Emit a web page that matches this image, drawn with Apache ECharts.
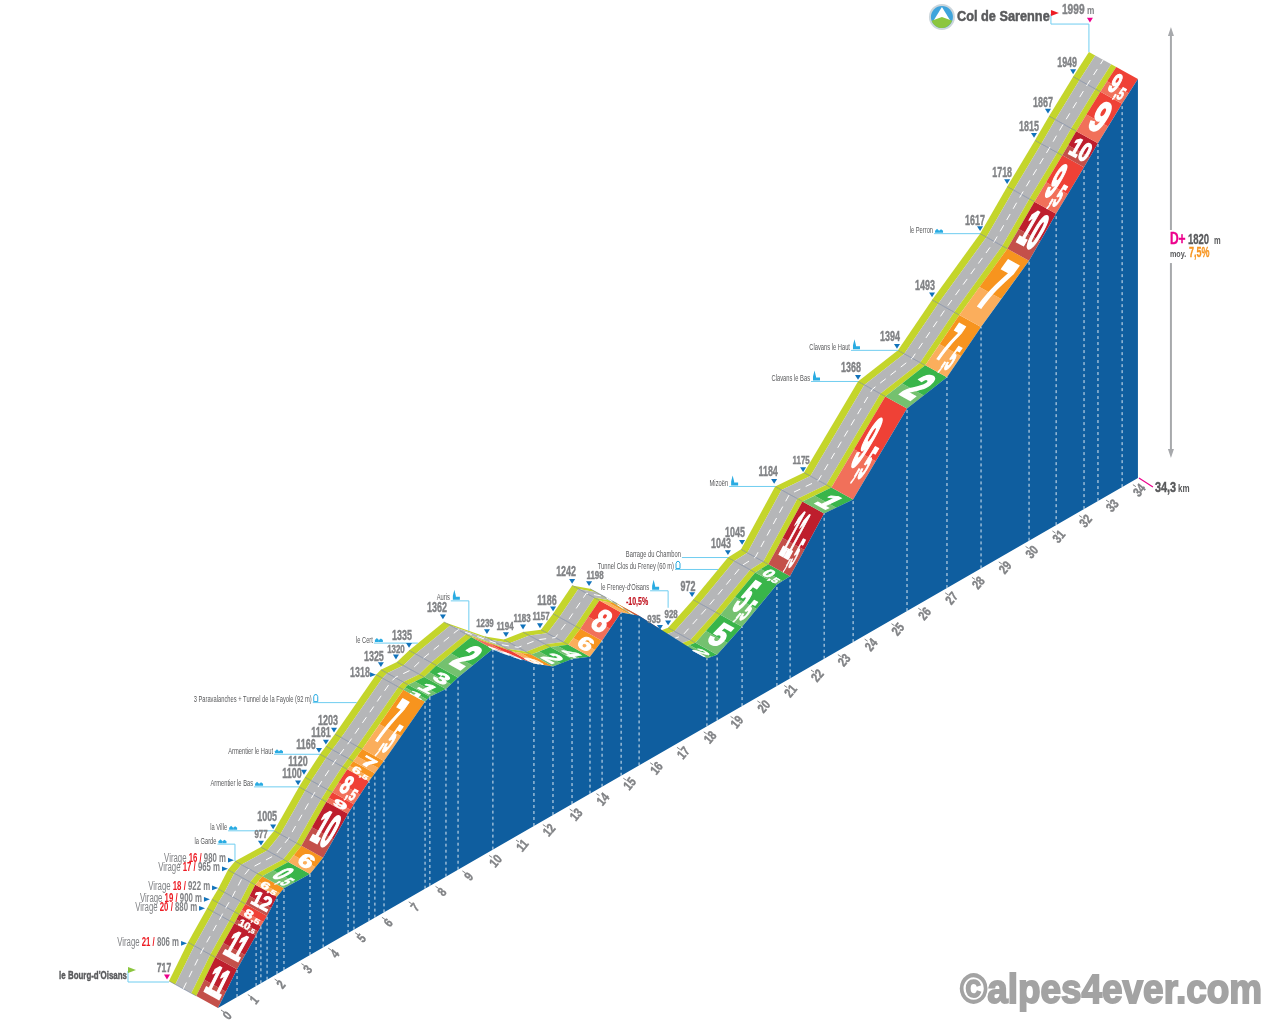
<!DOCTYPE html>
<html><head><meta charset="utf-8">
<style>html,body{margin:0;padding:0;background:#fff}#c{width:1280px;height:1024px}</style>
<script src="https://cdn.jsdelivr.net/npm/echarts@6/dist/echarts.min.js"></script>
</head><body><div id="c"></div>
<script>
// ---------- DATA ----------
const kmPoints = [0,0.71,1.42,1.60,1.83,2.20,2.46,3.43,3.92,4.85,5.07,5.63,5.85,6.19,7.72,7.90,8.50,8.95,10.25,11.78,12.49,13.20,13.87,14.32,15.03,15.70,18.23,18.61,19.54,20.84,21.33,22.60,23.68,25.69,27.18,28.45,30.24,31.25,32.29,32.81,33.71,34.30];
const altitudes = [717,806,880,900,922,965,980,977,1005,1100,1120,1166,1181,1203,1318,1325,1320,1335,1362,1239,1194,1183,1157,1186,1242,1198,935,928,972,1043,1045,1184,1175,1368,1394,1493,1617,1718,1815,1867,1949,1999];
const grades = [11,11,10.5,8.5,12,6.5,0.5,6,10,9,8.5,6.5,7,7.5,1,1,3,2,8,6,2,4,6,8,6.5,10.5,2,5,5.5,0.5,11.5,1,9.5,2,7.5,7,10,9.5,10,9,9.5];
const kmTicks = Array.from({length:35},(_,i)=>i);
const virageNumbers = [16,17,18,19,20,21];
const virageVertex = [6,5,4,3,2,1];
const placeNames = ['la Ville','la Garde','Armentier le Bas','Armentier le Haut','3 Paravalanches + Tunnel de la Fayole (92 m)','le Cert','Auris','Tunnel Clos du Freney (60 m)','Barrage du Chambon',"le Freney-d'Oisans",'Mizoën','Clavans le Bas','Clavans le Haut','le Perron'];
const placeKm = [3.92,2.46,4.85,5.63,7.0,9.28,11.18,20.47,20.84,18.61,22.6,25.69,27.18,30.24];
const placeAlt = [1005,980,1100,1166,1264,1342,1287,1023,1043,928,1184,1368,1394,1617];
const placeKinds = ['house','house','house','house','tunnel','house','church','tunnel','none','church','church','church','church','house'];
const summitName = 'Col de Sarenne', startName = "le Bourg-d'Oisans";
const climbTotal = '1820', climbMean = '7,5%', climbLength = '34,3';

// ---------- LAYOUT / STYLE ----------
const AX = {kmMin:-8.128,kmMax:39.597,vMin:665.6,vMax:3956};
const SHEAR = 49.65, BASE_ALT = 717;
const D = {band:[-21.7,-12], lane:[-26.7,-14.8], road:[-42.7,-23.5], edge:[-49,-27], mid:[-34.7,-19.2]};
const GREY='#808285', DARK='#58595b', BLUE='#0f5e9f', TRI='#1273bb', LEAD='#6fcdf0', ICON='#29abe2', LIME='#c4d52b', ROAD='#b5b6b8';
const NARROW='"Liberation Sans",Arial,sans-serif';
const altLayout = {
 0:[-2,-4,-5,-12,11],7:[0,-4,0,-12,10],8:[-1,-4,-7,-14,13],9:[-1,-4,-7,-13,13],10:[-1,-5,-7,-15,13],11:[-1,-4,-14,-9,13],
 12:[0,-4,-5,-13,13],13:[-1,-4,-7,-13,13],15:[0,-5,-7,-13,13],16:[-1,-5,-1,-12,10],17:[0,-5,-7,-14,13],18:[-1,-5,-7,-14,13],
 19:[2,-5,0,-13,10],20:[2,-5,1,-13,10],21:[0,-5,-1,-13,10],22:[-1,-4,0,-13,10],23:[0,-5,-6,-13,13],24:[0,-4,-6,-13,13],
 25:[-1,-5,5,-13,10],26:[2,-4,-4,-12,10],27:[0,-5,3,-13,10],28:[-1,-5,-5,-13,13],29:[0,-5,-7,-13,13],30:[1,-7,-6,-16,13],
 31:[-1,-5,-7,-14,13],32:[-1,-3,-3,-12,10],33:[0,-4,-7,-13,13],34:[-1,-4,-8,-13,13],35:[0,-5,-7,-14,13],36:[0,-5,-5,-13,13],
 37:[0,-5,-5,-13,13],38:[-1,-5,-6,-13,13],39:[-1,-5,-6,-13,13],40:[0,-5,-6,-14,13]
};
const virageLayout = [[-4,-1],[-3,-1],[-3,-1],[-5,0],[-5,0],[-4,1]];
const placeLayout = [[46,0,0],[17.5,17,0],[45,0,0],[46,0,0],[44,0,0],[44,0,0],[18,30,0],[43,0,0],[46,0,0],[18,17,20],[46,0,0],[47,0,0],[47,0,0],[46,0,0]];
const hiddenFace = {24:1,25:1};

function ramp(g){ g=Math.abs(g);
 if(g<6) return ['#39b54a','#74c16f'];
 if(g<8) return ['#f7941e','#fbae5c'];
 if(g<10) return ['#ef4136','#f1705a'];
 return ['#be1e2d','#c4504a'];
}
const P=(api,km,alt,o)=>{const c=api.coord([km,alt+SHEAR*km]);return o?[c[0]+o[0],c[1]+o[1]]:c;};
const off=(p,o)=>[p[0]+o[0],p[1]+o[1]];
const lerp=(a,b,t)=>[a[0]+(b[0]-a[0])*t,a[1]+(b[1]-a[1])*t];
const poly=(pts,fill)=>({type:'polygon',shape:{points:pts},style:{fill}});
const line=(pts,stroke,w,dash)=>({type:'polyline',shape:{points:pts},style:{stroke,fill:'none',lineWidth:w,lineDash:dash||null}});
function txt(t,x,y,o){o=o||{};return {type:'text',x,y,scaleX:o.sx||1,style:{text:t,x:0,y:0,fill:o.c||GREY,
  font:(o.w||'bold')+' '+(o.s||13)+'px '+(o.f||NARROW),align:o.a||'center',verticalAlign:'middle',
  stroke:o.st||null,lineWidth:o.sw||0}};}
function tri(x,y,dir,c,s){s=s||3;c=c||TRI;
  if(dir==='r')return poly([[x-s,y-s*.8],[x+s,y],[x-s,y+s*.8]],c);
  return poly([[x-s,y-s*.8],[x+s,y-s*.8],[x,y+s*.8]],c);}
function affine(cx,cy,a,b,c,d,children){
  const E=(a+d)/2,F=(a-d)/2,G=(b+c)/2,H=(b-c)/2,Q=Math.hypot(E,H),R=Math.hypot(F,G);
  const a1=Math.atan2(G,F),a2=Math.atan2(H,E),th=(a2-a1)/2,be=(a2+a1)/2;
  return {type:'group',x:cx,y:cy,rotation:-be,scaleX:Q+R,scaleY:Q-R,children:[{type:'group',rotation:-th,children}]};
}
function faceNumber(api,i){
  if(hiddenFace[i])return null;
  const g=grades[i],A=P(api,kmPoints[i],altitudes[i]),B=P(api,kmPoints[i+1],altitudes[i+1]);
  const rx=B[0]-A[0],ry=B[1]-A[1],len=Math.hypot(rx,ry);
  const dl=Math.hypot(22,12),dx=22/dl,dy=12/dl;
  const isHalf=g%1!==0,main=String(Math.floor(g));
  const FS=20,mw=main.length*FS*.52,sw=isHalf?13:0,w=mw+sw,h=15;
  const targetW=Math.min(dl*.74,w*1.3),targetH=Math.min(len*.72,58);
  const sx=targetW/w,sy=targetH/h,cx=A[0]+rx/2-11,cy=A[1]+ry/2-4;
  const kids=[{type:'text',x:-sw/2,y:0,style:{text:main,x:0,y:0,fill:'#fff',stroke:'#fff',lineWidth:1,font:'bold '+FS+'px '+NARROW,align:'center',verticalAlign:'middle'}}];
  if(isHalf)kids.push({type:'text',x:mw/2,y:4,style:{text:',5',x:0,y:0,fill:'#fff',stroke:'#fff',lineWidth:.6,font:'bold 13px '+NARROW,align:'center',verticalAlign:'middle'}});
  return affine(cx,cy,dx*sx,dy*sx,-(rx/len)*sy,-(ry/len)*sy,kids);
}
function icon(kind,x,y){
  if(kind==='house')return {type:'group',children:[
    poly([[x,y],[x,y-2],[x+2,y-4],[x+4,y-2],[x+4,y]],ICON),poly([[x+4,y],[x+4,y-2],[x+6,y-3.5],[x+8,y-2],[x+8,y]],ICON)]};
  if(kind==='church')return {type:'group',children:[
    poly([[x+1,y],[x+1,y-4],[x+2.5,y-10],[x+4,y-4],[x+4,y-3],[x+8,y-3],[x+8,y]],ICON)]};
  if(kind==='tunnel')return {type:'group',children:[
    line([[x,y],[x,y-5],[x+1,y-7],[x+3,y-7],[x+4,y-5],[x+4,y],[x,y]],ICON,1)]};
  return null;
}
const idx=kmPoints.map((k,i)=>[k,altitudes[i]]);
const one=[[0,BASE_ALT]];

function rSegment(p,api){
  const i=p.dataIndex; if(i>=grades.length)return null;
  const a=P(api,kmPoints[i],altitudes[i]),b=P(api,kmPoints[i+1],altitudes[i+1]);
  const q=(o1,o2,f,t0,t1)=>{const s=lerp(a,b,t0==null?0:t0),e=lerp(a,b,t1==null?1:t1);
    return poly([off(s,o1),off(e,o1),off(e,o2),off(s,o2)],f);};
  const c=ramp(grades[i]),ch=[
    q(D.edge,D.road,LIME),q(D.road,D.lane,ROAD),q(D.lane,D.band,LIME),
    q(D.band,[0,0],c[1],0,.42),q(D.band,[0,0],c[0],.42,1),
    line([off(a,D.band),off(a,D.edge)],'rgba(80,100,140,.55)',.8)];
  return {type:'group',children:ch};
}
function rCenterLine(p,api){
  return line(kmPoints.map((k,i)=>P(api,k,altitudes[i],D.mid)),'#fff',1,[7,6]);
}
function rWall(p,api){
  const top=kmPoints.map((k,i)=>P(api,k,altitudes[i]));
  const last=kmPoints[kmPoints.length-1];
  return poly(top.concat([P(api,last,BASE_ALT),P(api,0,BASE_ALT)]),BLUE);
}
function rDashes(p,api){
  const i=p.dataIndex; if(i===0||i===kmPoints.length-1)return null;
  return line([P(api,kmPoints[i],BASE_ALT),P(api,kmPoints[i],altitudes[i])],'rgba(255,255,255,.85)',1,[3,3]);
}
function rFace(p,api){return p.dataIndex<grades.length?faceNumber(api,p.dataIndex):null;}
function rKm(p,api){
  const k=kmTicks[p.dataIndex],b=P(api,k,BASE_ALT);
  return {type:'group',children:[
    line([[b[0]+3,b[1]+2],[b[0]+6,b[1]+4]],GREY,1),
    {type:'text',x:b[0]+10,y:b[1]+8,rotation:.87,scaleX:.8,style:{text:String(k),x:0,y:0,fill:GREY,stroke:GREY,lineWidth:.4,font:'bold 13px '+NARROW,align:'center',verticalAlign:'middle'}}]};
}
function rAltLabel(p,api){
  const i=p.dataIndex,L=altLayout[i]; 
  const b=P(api,kmPoints[i],altitudes[i],D.edge);
  if(i===14){
    return {type:'group',children:[tri(b[0]-3,b[1],'r'),txt(String(altitudes[i]),b[0]-16,b[1]-2,{s:14,sx:.64,st:GREY,sw:.3})]};}
  if(!L)return null;
  const small=L[4]<13;
  return {type:'group',children:[
    tri(b[0]+L[0],b[1]+L[1],'d',i===0?'#ec008c':TRI),
    txt(String(altitudes[i]),b[0]+L[2],b[1]+L[3],{s:L[4]+1,sx:small?.72:.64,c:GREY,st:GREY,sw:.4})]};
}
function rVirage(p,api){
  const j=p.dataIndex,v=virageVertex[j],b=P(api,kmPoints[v],altitudes[v],D.edge),L=virageLayout[j];
  const x=b[0]+L[0],y=b[1]+L[1];
  return {type:'group',children:[tri(x,y,'r'),
   {type:'text',x:x-5,y:y-1,scaleX:.65,style:{text:'{a|Virage }{b|'+virageNumbers[j]+' / }{c|'+altitudes[v]+' m}',x:0,y:0,align:'right',verticalAlign:'middle',
    rich:{a:{fill:GREY,font:'12px '+NARROW},b:{fill:'#ed1c24',font:'bold 12px '+NARROW},c:{fill:GREY,font:'bold 12px '+NARROW}}}}]};
}
function rPlace(p,api){
  const j=p.dataIndex,L=placeLayout[j],b=P(api,placeKm[j],placeAlt[j],D.edge);
  const ly=b[1]-(L[1]+L[2]),lx=b[0]-L[0],pts=L[1]?[[b[0],b[1]-L[2]],[b[0],ly],[lx,ly]]:[[b[0],ly],[lx,ly]];
  const kind=placeKinds[j],ch=[line(pts,LEAD,1)];
  const ic=icon(kind,lx+1,ly-1); if(ic)ch.push(ic);
  ch.push(txt(placeNames[j],lx-1,ly-3,{s:9,w:'normal',a:'right',sx:.64,c:'#58595b'}));
  return {type:'group',children:ch};
}
function rExtras(p,api){
  const n=kmPoints.length-1,s=P(api,kmPoints[n],altitudes[n],D.edge),st=P(api,0,altitudes[0],D.edge);
  const endB=P(api,kmPoints[n],BASE_ALT),ax=endB[0]+33,top=s[1]-24,bot=endB[1]-21;
  const d1=P(api,kmPoints[25],altitudes[25],D.edge);
  return {type:'group',children:[
    line([[s[0],s[1]],[s[0],s[1]-28],[s[0]-38,s[1]-28],[s[0]-38,s[1]-38]],LEAD,1),
    poly([[s[0]-38,s[1]-42],[s[0]-30,s[1]-39],[s[0]-38,s[1]-36]],'#ed1c24'),
    tri(s[0]+1,s[1]-32,'d','#ec008c'),
    txt(summitName,s[0]-132,s[1]-35,{s:15,a:'left',c:DARK,sx:.85,st:DARK,sw:.5}),
    txt('1999',s[0]-27,s[1]-42,{s:15,a:'left',c:GREY,sx:.68,st:GREY,sw:.4}),
    txt('m',s[0]-2,s[1]-41,{s:11,a:'left',c:GREY,sx:.75}),
    {type:'circle',shape:{cx:s[0]-147,cy:s[1]-35,r:13},style:{fill:'#ccd6dc'}},
    {type:'circle',shape:{cx:s[0]-147,cy:s[1]-35,r:11},style:{fill:'#3fa4dc'}},
    poly([[s[0]-155,s[1]-32],[s[0]-147,s[1]-45],[s[0]-139,s[1]-32]],'#fff'),
    {type:'sector',shape:{cx:s[0]-147,cy:s[1]-35,r:11,r0:0,startAngle:.35,endAngle:Math.PI-.35},style:{fill:'#8cc63f'}},
    line([[st[0],st[1]+1],[st[0]-41,st[1]+1],[st[0]-41,st[1]-10]],LEAD,1),
    poly([[st[0]-41,st[1]-14],[st[0]-33,st[1]-11],[st[0]-41,st[1]-8]],'#8cc63f'),
    txt(startName,st[0]-42,st[1]-5,{s:11,a:'right',c:DARK,sx:.72,st:DARK,sw:.4}),
    line([[ax,top+5],[ax,top+202]],'#a7a9ac',2),line([[ax,top+235],[ax,bot-5]],'#a7a9ac',2),
    poly([[ax-3,top+8],[ax,top-1],[ax+3,top+8]],'#a7a9ac'),
    poly([[ax-3,bot-8],[ax,bot+1],[ax+3,bot-8]],'#a7a9ac'),
    txt('D+',ax-1,top+212,{s:16,a:'left',c:'#ec008c',sx:.75,st:'#ec008c',sw:.4}),
    txt(climbTotal,ax+17,top+212,{s:14,a:'left',c:DARK,sx:.68,st:DARK,sw:.3}),
    txt('m',ax+43,top+213,{s:10,a:'left',c:DARK,sx:.75}),
    txt('moy.',ax-1,top+226,{s:9,a:'left',c:DARK,sx:.8}),
    txt(climbMean,ax+18,top+225,{s:15,a:'left',c:'#f7941e',sx:.6,st:'#f7941e',sw:.3}),
    line([[endB[0]+1,endB[1]],[endB[0]+15,endB[1]+9]],'#ec008c',1.2),
    txt(climbLength,endB[0]+17,endB[1]+10,{s:14,a:'left',c:DARK,sx:.78,st:DARK,sw:.4}),
    txt('km',endB[0]+40,endB[1]+11,{s:10,a:'left',c:DARK,sx:.8}),
    txt('-10,5%',d1[0]+47,d1[1]+14,{s:10,c:'#c1121f',sx:.7,st:'#c1121f',sw:.2}),
    {type:'text',x:960,y:992,scaleX:.9,style:{text:'©alpes4ever.com',x:0,y:0,fill:'#a3a3a3',stroke:'#a3a3a3',lineWidth:1.8,font:'bold 41px '+NARROW,align:'left',verticalAlign:'middle'}}
  ]};
}
const cs=(name,data,fn,z)=>({type:'custom',name,coordinateSystem:'cartesian2d',clip:false,silent:true,z,encode:{x:0,y:1},data,renderItem:fn,animation:false});
const chart=echarts.init(document.getElementById('c'),null,{renderer:'canvas'});
chart.setOption({
  animation:false,backgroundColor:'#fff',
  grid:{left:0,right:0,top:0,bottom:0},
  xAxis:{type:'value',min:AX.kmMin,max:AX.kmMax,show:false},
  yAxis:{type:'value',min:AX.vMin,max:AX.vMax,show:false},
  series:[
    cs('road',idx,rSegment,1),
    cs('centre',one,rCenterLine,2),
    cs('wall',one,rWall,3),
    cs('dashes',idx,rDashes,4),
    cs('faces',idx,rFace,5),
    cs('km',kmTicks.map(k=>[k,BASE_ALT]),rKm,6),
    cs('alts',idx,rAltLabel,7),
    cs('virages',virageNumbers.map(n=>[0,BASE_ALT]),rVirage,7),
    cs('places',placeNames.map(n=>[0,BASE_ALT]),rPlace,6),
    cs('extras',one,rExtras,8)
  ]
});
</script></body></html>
